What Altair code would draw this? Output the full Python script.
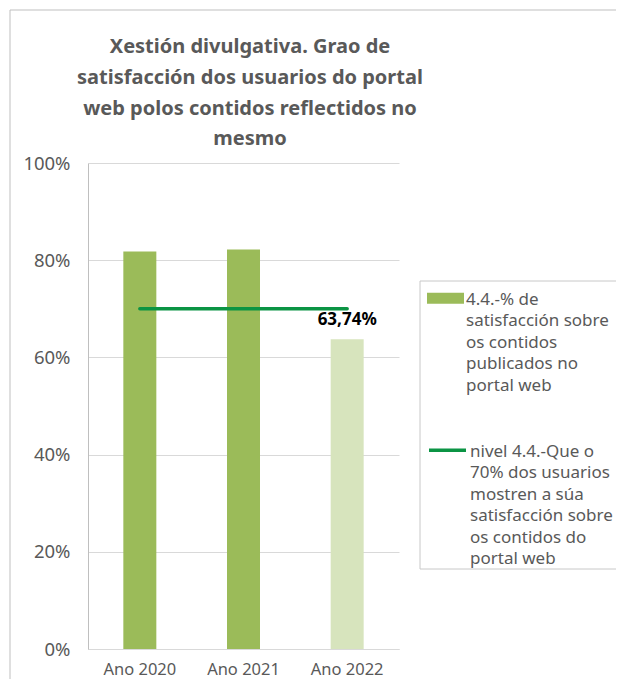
import altair as alt
import pandas as pd

years = ["Ano 2020", "Ano 2021", "Ano 2022"]
satisfaction = [81.8, 82.2, 63.74]
target = [70, 70, 70]
y_ticks = [0, 20, 40, 60, 80, 100]
title_lines = [
    "Xestión divulgativa. Grao de",
    "satisfacción dos usuarios do portal",
    "web polos contidos reflectidos no",
    "mesmo",
]
bar_series = "4.4.-% de|satisfacción sobre|os contidos|publicados no|portal web"
line_series = "nivel 4.4.-Que o|70% dos usuarios|mostren a súa|satisfacción sobre|os contidos do|portal web"
highlight_year = "Ano 2022"

FONT = "Noto Sans"
GRAY = "#595959"
BAR = "#9BBB59"
BAR_LIGHT = "#D7E4BD"
LINE = "#0B9444"

df = pd.DataFrame({
    "year": years,
    "value": satisfaction,
    "target": target,
    "bar_series": [bar_series] * len(years),
    "line_series": [line_series] * len(years),
})

x = alt.X(
    "year:N", sort=years, title=None,
    scale=alt.Scale(paddingInner=0, paddingOuter=0),
    axis=alt.Axis(labelAngle=0, ticks=False, domainColor="#D9D9D9",
                  labelColor=GRAY, labelFontSize=16.5, labelPadding=12, labelFont=FONT),
)
y_scale = alt.Scale(domain=[0, 100], nice=False)

legend_common = dict(
    title=None, orient="none", labelExpr="split(datum.label, '|')",
    symbolSize=1369, labelFontSize=17, labelColor=GRAY, labelFont=FONT,
    labelOffset=2, labelLimit=300, labelBaseline="alphabetic", padding=0,
)

bars = alt.Chart(df).mark_bar(size=33).encode(
    x=x,
    y=alt.Y("value:Q", scale=y_scale, title=None,
            axis=alt.Axis(values=y_ticks, labelExpr="datum.value + '%'", ticks=False,
                          domainColor="#BFBFBF", gridColor="#D9D9D9", labelColor=GRAY,
                          labelFontSize=18.5, labelPadding=18, labelFont=FONT)),
    fill=alt.condition(
        alt.datum.year == highlight_year,
        alt.value(BAR_LIGHT),
        alt.Fill("bar_series:N", scale=alt.Scale(range=[BAR]),
                 legend=alt.Legend(legendX=339, legendY=123,
                                   symbolType="M-1,-0.64H1V-0.04H-1Z",
                                   symbolStrokeWidth=0, **legend_common)),
    ),
)

line = alt.Chart(df).mark_line(strokeWidth=3.5, strokeCap="round").encode(
    x=x,
    y=alt.Y("target:Q", scale=y_scale, title=None),
    stroke=alt.Stroke("line_series:N", scale=alt.Scale(range=[LINE]),
                      legend=alt.Legend(legendX=339, legendY=273,
                                        symbolType="M-1,-0.34H1",
                                        symbolStrokeWidth=3.5, **legend_common)),
)

label = alt.Chart(df).transform_filter(
    alt.datum.year == highlight_year
).transform_calculate(
    txt="replace(format(datum.value, '.2f'), '.', ',') + '%'"
).mark_text(dy=-19, fontWeight="bold", fontSize=17, color="black", font=FONT).encode(
    x=x,
    y=alt.Y("value:Q", scale=y_scale, title=None),
    text="txt:N",
)

frame = alt.Chart(alt.Data(values=[{}])).mark_rect(
    fillOpacity=0, stroke="#BFBFBF", strokeWidth=1
).encode(x=alt.value(-78), x2=alt.value(600), y=alt.value(-153), y2=alt.value(700))

legend_box = alt.Chart(alt.Data(values=[{}])).mark_rect(
    fillOpacity=0, stroke="#C8C8C8", strokeWidth=1
).encode(x=alt.value(332), x2=alt.value(600), y=alt.value(118), y2=alt.value(406))

chart = alt.layer(frame, legend_box, bars, line, label).properties(
    width=311,
    height=486,
    autosize="none",
    padding={"left": 80, "top": 155, "right": 217, "bottom": 30},
    title=alt.TitleParams(title_lines, fontSize=20, font=FONT, fontWeight="bold",
                          color=GRAY, anchor="middle", frame="group", offset=-140,
                          lineHeight=30.7, dx=6.5),
).configure(
    view={"strokeWidth": 0},
    style={"guide-label": {"lineHeight": 21.5}},
)

chart.save("out.html", embed_options={"renderer": "svg", "actions": False})
